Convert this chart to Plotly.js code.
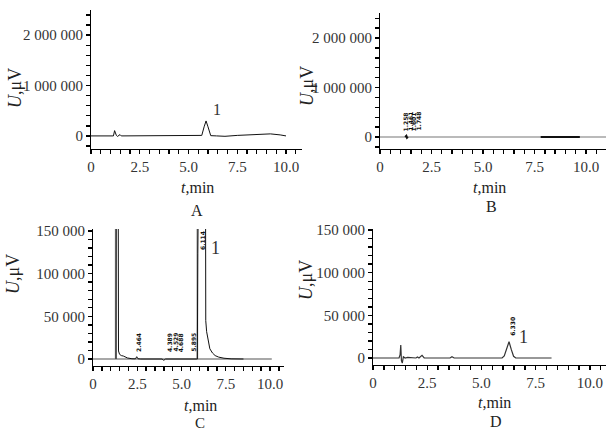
<!DOCTYPE html>
<html><head><meta charset="utf-8">
<script src="https://cdn.plot.ly/plotly-3.0.1.min.js"></script>
<style>html,body{margin:0;padding:0;background:#fff}#chart{width:606px;height:432px}</style>
</head><body><div id="chart"></div>
<script>
// ---- tick labels ----
const xTickVals = [0, 2.5, 5, 7.5, 10];
const xTickText = ["0", "2.5", "5.0", "7.5", "10.0"];
const yTickValsAB = [0, 1000000, 2000000];
const yTickTextAB = ["0", "1 000 000", "2 000 000"];
const yTickValsCD = [0, 50000, 100000, 150000];
const yTickTextCD = ["0", "50 000", "100 000", "150 000"];
const panelLetters = ["A", "B", "C", "D"];
const compoundNo = "1";

// ---- Panel A (t, min ; U, μV) ----
const tA = [0, 1.00, 1.15, 1.21, 1.25, 1.30, 1.36, 1.42, 1.49, 1.55, 1.62, 1.95, 2.00, 2.05, 5.55, 5.68, 5.80, 5.90, 6.00, 6.14, 6.44, 6.87, 7.50, 8.30, 9.20, 9.70, 10.00];
const uA = [0, 0, 0, 105000, 30000, 10000, -10000, 5000, 26000, 0, 0, 0, 5000, 0, 0, 10000, 180000, 297000, 180000, 5000, 0, -8000, 10000, 30000, 40000, 20000, 0];

// ---- Panel B ----
const tBbase = [0, 11];
const uBbase = [0, 0];
const tB = [1.22, 1.28, 1.31, 1.36, 1.37, 7.80, 9.70];
const uB = [0, 25000, -15000, 0, null, 0, 0];
const peakLabelsB = ["1.258", "1.461", "1.601", "1.748"];

// ---- Panel C ----
const tCgray = [0, 1.270, 1.275, 1.300, 1.305, 5.885, 5.890, 5.900, 5.905, 10.10];
const uCgray = [0, 0, 400000, 400000, 0, 0, 400000, 400000, 0, 0];
const tC = [1.30, 1.33, 1.40, 1.44, 1.50, 1.60, 1.71, 1.80, 1.95, 2.20, 2.40, 2.47, 2.54, 2.70, 3.25, 3.30, 3.35, 3.90, 4.00, 4.10, 5.86, 5.895, 5.92, 5.98, 6.114, 6.34, 6.37, 6.42, 6.50, 6.60, 6.75, 6.90, 7.10, 7.40, 7.80, 8.50];
const uC = [0, 500000, 500000, 9400, 5500, 4000, 3500, 2500, 1200, 300, 200, 2700, 300, 0, 0, 800, 0, 0, -1500, 0, 0, 0, 124000, 400000, 600000, 400000, 45000, 32000, 22000, 12000, 7000, 4000, 2200, 900, 200, 0];
const peakLabelsC = ["2.464", "4.389", "4.529", "4.688", "5.895", "6.114"];

// ---- Panel D ----
const tD = [0, 1.20, 1.25, 1.28, 1.31, 1.35, 1.40, 1.48, 1.60, 1.98, 2.05, 2.12, 2.26, 2.36, 3.55, 3.64, 3.74, 4.60, 4.65, 4.95, 5.00, 5.95, 6.05, 6.15, 6.27, 6.38, 6.48, 6.58, 6.80, 6.85, 7.85, 7.90, 8.23];
const uD = [0, 0, 4000, 15200, -3000, -5900, 1500, 0, 800, 0, 1200, 0, 3100, 0, 0, 1600, 0, 0, -800, -800, 0, 0, 2500, 9500, 19100, 9500, 2000, 0, 0, -600, -600, 0, 0];
const peakLabelsD = ["6.330"];

// ---- styling / layout ----
const W = 606, H = 432;
const FONT = "Liberation Serif";
const INK = "#000000";

function line(x, y, xa, ya, color, width) {
  return {type: "scatter", mode: "lines", x: x, y: y, xaxis: xa, yaxis: ya,
    line: {color: color, width: width}, hoverinfo: "skip", connectgaps: false};
}

const traces = [
  line(tA, uA, "x", "y", "#111", 1),
  line(tBbase, uBbase, "x2", "y2", "#777", 1.2),
  line(tB, uB, "x2", "y2", "#111", 2),
  line(tCgray, uCgray, "x3", "y3", "#8c8c8c", 1.3),
  line(tC, uC, "x3", "y3", "#111", 1),
  line(tD, uD, "x4", "y4", "#333", 1.2)
];

// tick positions every `step`; labels only where a labelled tick sits
function tickSet(range, step, vals, text) {
  const tv = [], tt = [];
  for (let k = Math.ceil(range[0] / step); k * step <= range[1] + 1e-9; k++) {
    const v = Math.round(k * step * 1e6) / 1e6;
    const idx = vals.findIndex(u => Math.abs(u - v) < step * 1e-3);
    tv.push(v);
    tt.push(idx >= 0 ? text[idx] : "");
  }
  return {tickvals: tv, ticktext: tt};
}

function xax(domain, range, anchor) {
  const t = tickSet(range, 0.5, xTickVals, xTickText);
  return {domain: domain, range: range, anchor: anchor, showline: true, linecolor: INK, linewidth: 1,
    ticks: "outside", ticklen: 4, tickcolor: INK, tickwidth: 1.4,
    tickmode: "array", tickvals: t.tickvals, ticktext: t.ticktext,
    showgrid: false, zeroline: false, fixedrange: true,
    tickfont: {family: FONT, size: 15, color: "#333"}};
}
function yax(domain, range, anchor, vals, text, step) {
  const t = tickSet(range, step, vals, text);
  return {domain: domain, range: range, anchor: anchor, showline: true, linecolor: INK, linewidth: 1,
    ticks: "outside", ticklen: 4, tickcolor: INK, tickwidth: 1.4,
    tickmode: "array", tickvals: t.tickvals, ticktext: t.ticktext,
    showgrid: false, zeroline: false, fixedrange: true,
    tickfont: {family: FONT, size: 15, color: "#333"}};
}
const px = v => v / W, py = v => 1 - v / H;

function paperText(text, x, y, size, angle) {
  return {text: text, x: px(x), y: py(y), xref: "paper", yref: "paper", showarrow: false,
    xanchor: "center", yanchor: "middle", textangle: angle || 0,
    font: {family: FONT, size: size, color: "#222"}};
}
function rtLabel(text, xa, ya, yv, xshift) {
  return {text: text, x: parseFloat(text), y: yv, xref: xa, yref: ya, showarrow: false,
    textangle: -90, xanchor: "center", yanchor: "bottom", xshift: xshift || 0,
    font: {family: "DejaVu Sans", size: 6, color: "#111", weight: "bold"}};
}
function cmpLabel(xa, ya, xv, yv, size) {
  return {text: compoundNo, x: xv, y: yv, xref: xa, yref: ya, showarrow: false,
    xanchor: "center", yanchor: "middle", font: {family: FONT, size: size, color: "#333"}};
}

const annotations = [
  // axis titles
  paperText("<i>U</i>,μV", 15, 88, 18, -90),
  paperText("<i>t</i>,min", 197, 188, 16),
  paperText("<i>U</i>,μV", 307, 86, 18, -90),
  paperText("<i>t</i>,min", 489, 187, 16),
  paperText("<i>U</i>,μV", 13, 274, 18, -90),
  paperText("<i>t</i>,min", 200, 405, 16),
  paperText("<i>U</i>,μV", 306, 280, 18, -90),
  paperText("<i>t</i>,min", 495, 402, 16),
  // panel letters
  paperText(panelLetters[0], 197, 210, 16),
  paperText(panelLetters[1], 491, 206, 16),
  paperText(panelLetters[2], 200, 423, 15),
  paperText(panelLetters[3], 496, 421, 16),
  // compound numbers
  cmpLabel("x", "y", 6.45, 520000, 16),
  cmpLabel("x3", "y3", 6.9, 130000, 18),
  cmpLabel("x4", "y4", 6.96, 24600, 18)
];
const shiftsB = [0, 0, 1, 3];
const shiftsC = [2, -1, 2, 4, -4, 2];
peakLabelsB.forEach((s, i) => annotations.push(rtLabel(s, "x2", "y2", 80000, shiftsB[i])));
peakLabelsC.forEach((s, i) => annotations.push(rtLabel(s, "x3", "y3", i === 5 ? 125000 : 6000, shiftsC[i])));
peakLabelsD.forEach(s => annotations.push(rtLabel(s, "x4", "y4", 23400, 2)));

const layout = {
  width: W, height: H, margin: {l: 0, r: 0, t: 0, b: 0, pad: 0},
  paper_bgcolor: "#fff", plot_bgcolor: "#fff", showlegend: false,
  font: {family: FONT, size: 15, color: "#333"},
  xaxis: xax([91 / W, 302 / W], [0, 10.82], "y"),
  yaxis: yax([1 - 149 / H, 1 - 10 / H], [-260000, 2500000], "x", yTickValsAB, yTickTextAB, 200000),
  xaxis2: xax([380 / W, 1], [0, 10.97], "y2"),
  yaxis2: yax([1 - 149 / H, 1 - 13 / H], [-242000, 2505000], "x2", yTickValsAB, yTickTextAB, 200000),
  xaxis3: xax([93 / W, 284 / W], [0, 10.79], "y3"),
  yaxis3: yax([1 - 366 / H, 1 - 229 / H], [-8200, 152300], "x3", yTickValsCD, yTickTextCD, 10000),
  xaxis4: xax([373 / W, 1], [0, 10.74], "y4"),
  yaxis4: yax([1 - 365 / H, 1 - 229 / H], [-8200, 151200], "x4", yTickValsCD, yTickTextCD, 10000),
  annotations: annotations
};

Plotly.newPlot("chart", traces, layout, {staticPlot: true, displayModeBar: false});
</script>
</body></html>
